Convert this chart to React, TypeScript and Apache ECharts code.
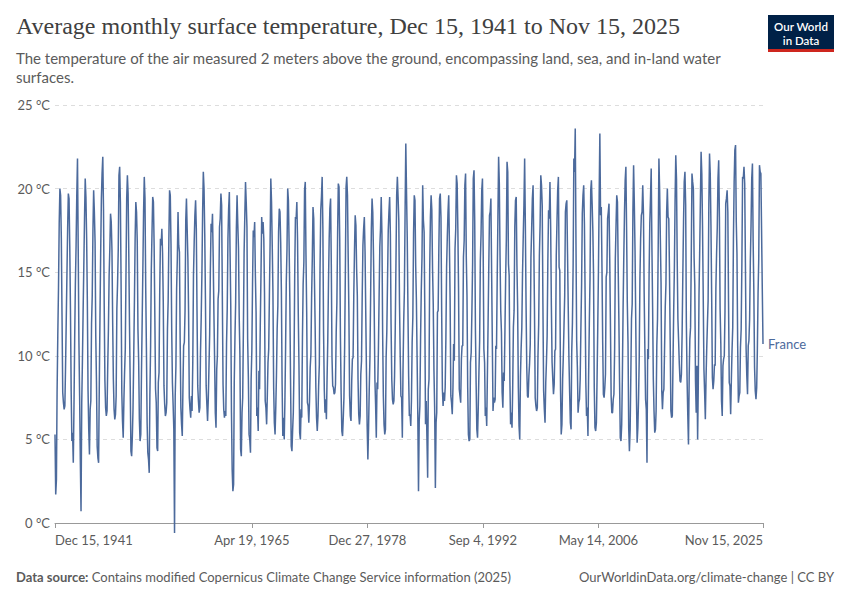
import React, { useEffect, useRef } from "react";
import * as echarts from "echarts";

const seriesName = "France";
const startYear = 1941;
const startMonthIndex = 11; // December 1941, first observation

// Monthly mean surface temperature, France (°C), Dec 1941 .. Nov 2025
const t1940s = [
  5.3,
  1.7, 2.6, 7.8, 11.2, 14.0, 17.9, 20.0, 19.6, 17.0, 12.4, 7.8, 7.2,
  6.8, 7.0, 9.2, 12.0, 14.8, 17.6, 19.7, 19.4, 16.6, 12.8, 7.9, 4.9,
  5.4, 3.6, 6.9, 11.0, 14.3, 16.6, 19.6, 21.8, 16.4, 10.9, 7.6, 3.8,
  0.7, 7.2, 9.6, 12.6, 15.3, 18.2, 20.6, 19.5, 17.0, 13.3, 7.9, 5.6,
  4.1, 6.8, 7.3, 11.9, 13.6, 17.5, 19.9, 18.6, 16.8, 11.2, 8.4, 4.6,
  3.9, 3.6, 8.0, 12.3, 16.1, 19.4, 20.9, 21.9, 18.8, 13.1, 8.5, 6.9,
  6.4, 6.7, 9.3, 11.6, 14.8, 16.4, 18.5, 18.0, 16.3, 12.1, 8.6, 6.8,
  6.2, 6.5, 7.6, 12.8, 14.3, 16.4, 20.8, 21.3, 19.2, 14.3, 7.8, 6.1,
];
const t1950s = [
  5.1, 7.4, 9.0, 10.4, 14.9, 19.4, 20.8, 19.7, 15.9, 11.8, 8.2, 4.3,
  4.0, 5.2, 6.8, 9.9, 13.2, 17.0, 19.2, 18.6, 16.8, 11.6, 9.7, 6.2,
  4.9, 5.3, 8.9, 12.1, 15.2, 18.6, 20.7, 19.4, 14.1, 10.5, 6.0, 4.2,
  3.8, 3.0, 7.7, 10.6, 15.1, 17.4, 19.5, 19.2, 16.6, 12.4, 8.0, 7.2,
  4.5, 4.3, 8.4, 9.0, 13.8, 17.0, 16.6, 17.6, 16.1, 13.2, 8.2, 7.1,
  6.4, 6.6, 7.2, 11.6, 13.3, 17.0, 19.9, 19.6, 16.7, 11.6, 8.4, 7.1,
  5.6, -0.6, 7.6, 9.4, 14.0, 15.8, 18.6, 16.6, 16.2, 11.0, 6.9, 5.9,
  5.2, 8.3, 10.6, 10.8, 12.7, 18.1, 19.4, 17.6, 15.8, 12.6, 7.5, 6.8,
  6.3, 7.6, 6.7, 9.6, 14.8, 16.8, 18.4, 19.3, 17.6, 12.7, 8.2, 7.3,
  6.6, 6.9, 10.2, 12.3, 14.9, 18.6, 21.0, 20.0, 17.3, 13.4, 8.2, 7.1,
];
const t1960s = [
  6.1, 7.4, 9.3, 11.3, 15.1, 17.9, 17.4, 18.5, 15.8, 12.6, 9.8, 6.6,
  5.7, 9.2, 10.0, 13.4, 13.9, 17.7, 18.2, 19.7, 19.0, 13.6, 8.3, 6.8,
  6.3, 6.7, 6.4, 10.7, 12.8, 17.0, 18.8, 19.8, 16.2, 13.0, 6.6, 3.2,
  1.9, 2.3, 8.4, 11.1, 13.2, 17.6, 19.6, 17.9, 16.4, 12.4, 10.1, 4.4,
  4.0, 6.6, 7.5, 11.7, 16.2, 18.4, 20.4, 19.2, 17.7, 11.0, 8.7, 5.3,
  5.0, 4.2, 8.6, 10.3, 14.3, 17.5, 17.1, 18.0, 14.8, 12.6, 6.4, 6.9,
  5.5, 9.1, 8.0, 11.8, 14.8, 18.3, 17.3, 18.0, 17.0, 13.8, 7.3, 6.9,
  5.9, 7.7, 9.6, 10.4, 13.6, 16.8, 20.6, 19.2, 16.6, 13.8, 8.1, 6.0,
  5.3, 6.9, 8.8, 11.6, 13.0, 17.4, 18.8, 18.6, 16.8, 13.8, 8.3, 5.2,
  6.3, 5.0, 7.2, 10.5, 14.4, 16.4, 20.0, 19.3, 16.6, 13.4, 8.6, 4.6,
];
const t1970s = [
  4.3, 5.6, 6.6, 9.4, 14.9, 18.3, 18.2, 19.2, 16.9, 12.6, 9.4, 5.4,
  5.0, 6.8, 6.3, 11.1, 14.3, 15.6, 19.9, 20.4, 16.0, 12.6, 7.2, 7.0,
  6.0, 7.3, 9.3, 10.1, 13.5, 15.9, 18.9, 18.2, 14.6, 11.8, 8.1, 6.3,
  5.5, 6.4, 8.2, 9.5, 15.2, 18.7, 19.5, 20.7, 17.6, 11.4, 8.0, 6.6,
  7.4, 6.2, 8.6, 10.9, 14.3, 17.0, 18.8, 19.4, 15.4, 9.9, 8.2, 8.1,
  7.7, 7.8, 8.3, 11.4, 13.2, 17.3, 20.3, 20.1, 16.9, 11.1, 7.7, 5.5,
  5.2, 6.3, 7.5, 10.6, 15.0, 20.1, 20.7, 19.6, 15.9, 12.6, 7.6, 6.4,
  6.1, 8.5, 9.8, 9.9, 13.6, 16.3, 18.4, 17.8, 15.2, 13.6, 8.6, 6.5,
  5.9, 6.4, 8.9, 9.7, 13.6, 16.6, 17.6, 18.3, 16.2, 12.6, 9.0, 5.8,
  3.8, 5.7, 8.0, 9.9, 13.7, 17.6, 19.4, 18.6, 16.0, 13.0, 8.6, 7.1,
];
const t1980s = [
  5.1, 8.4, 8.0, 10.3, 13.5, 16.5, 17.6, 19.5, 17.3, 11.4, 7.6, 5.9,
  5.3, 5.6, 9.9, 11.5, 14.5, 17.5, 18.6, 19.5, 17.3, 11.9, 8.6, 7.4,
  7.1, 7.3, 8.8, 11.7, 15.6, 19.6, 20.7, 19.5, 18.1, 13.2, 10.0, 7.6,
  7.5, 5.1, 9.0, 12.0, 13.9, 18.7, 22.7, 19.8, 17.1, 12.9, 8.8, 6.4,
  6.5, 5.8, 7.3, 10.8, 12.3, 17.3, 19.6, 19.3, 15.4, 13.4, 9.9, 6.5,
  1.9, 6.1, 7.0, 11.1, 13.9, 15.9, 20.2, 18.1, 17.4, 12.6, 5.9, 7.3,
  5.1, 2.7, 8.0, 8.6, 15.2, 18.3, 19.6, 18.7, 15.2, 13.1, 9.1, 6.9,
  2.1, 6.0, 6.6, 12.6, 12.7, 16.4, 19.4, 19.7, 18.3, 12.6, 8.0, 7.0,
  7.8, 7.3, 8.1, 11.1, 15.3, 17.1, 18.6, 19.6, 16.6, 13.3, 7.6, 7.2,
  6.5, 8.1, 10.7, 9.7, 16.4, 17.6, 20.8, 20.3, 17.6, 13.9, 8.0, 7.6,
];
const t1990s = [
  7.2, 9.8, 10.6, 10.6, 15.9, 16.9, 20.2, 20.9, 15.9, 13.6, 8.1, 5.3,
  4.9, 5.0, 9.6, 10.2, 12.6, 15.5, 20.6, 21.1, 18.0, 11.6, 8.3, 5.6,
  5.1, 6.9, 9.0, 10.9, 15.7, 17.3, 19.9, 20.6, 16.3, 10.4, 9.6, 6.4,
  6.9, 5.8, 8.7, 11.9, 15.3, 18.4, 18.6, 19.4, 15.1, 10.9, 6.7, 7.5,
  7.2, 7.4, 10.6, 10.4, 14.6, 18.3, 21.9, 20.3, 15.9, 12.7, 11.4, 7.8,
  6.9, 9.0, 8.5, 11.5, 14.6, 17.0, 21.6, 21.0, 15.5, 14.8, 8.6, 5.9,
  6.6, 5.7, 8.0, 11.7, 12.7, 17.7, 19.3, 19.5, 15.4, 13.0, 8.1, 5.8,
  5.0, 8.8, 10.4, 11.7, 14.9, 17.1, 19.0, 21.8, 17.8, 13.1, 9.3, 7.6,
  7.5, 8.8, 9.5, 10.7, 15.9, 17.6, 19.4, 20.2, 16.6, 12.8, 7.5, 7.0,
  6.7, 6.9, 10.0, 11.9, 16.0, 17.8, 20.8, 20.2, 19.0, 13.1, 7.9, 6.8,
];
const t2000s = [
  6.0, 8.4, 9.6, 11.2, 15.6, 18.7, 18.2, 20.4, 17.6, 13.0, 9.6, 8.6,
  7.7, 8.3, 10.3, 10.4, 16.0, 18.0, 19.9, 20.7, 15.3, 15.1, 8.0, 5.3,
  5.9, 8.6, 9.9, 11.8, 13.6, 18.6, 19.1, 19.3, 16.1, 12.9, 9.8, 7.8,
  6.0, 5.6, 10.2, 12.0, 15.4, 21.8, 21.0, 23.6, 16.8, 10.9, 9.3, 6.6,
  7.2, 7.4, 8.6, 11.6, 14.2, 18.5, 19.6, 20.2, 17.9, 13.5, 8.4, 6.4,
  6.9, 5.2, 8.8, 11.9, 14.6, 19.9, 20.5, 19.1, 17.5, 14.8, 8.1, 5.7,
  5.5, 6.0, 8.5, 11.7, 15.1, 19.5, 23.3, 18.4, 18.9, 15.3, 10.8, 7.7,
  7.5, 8.1, 8.9, 14.7, 15.0, 18.2, 18.6, 19.1, 15.9, 12.1, 7.6, 6.6,
  6.6, 7.4, 7.7, 10.4, 15.8, 17.8, 19.6, 19.2, 15.3, 12.2, 8.4, 5.1,
  4.9, 5.9, 8.7, 12.7, 15.8, 18.5, 20.5, 21.3, 17.5, 13.2, 10.8, 5.7,
];
const t2010s = [
  4.3, 5.6, 8.6, 12.2, 13.1, 18.6, 21.4, 19.1, 16.3, 12.2, 7.6, 4.8,
  5.7, 7.5, 9.8, 14.6, 17.0, 18.4, 18.6, 20.2, 18.5, 13.8, 10.4, 7.4,
  6.8, 3.6, 10.4, 9.8, 14.8, 17.9, 19.4, 21.2, 16.5, 12.9, 8.6, 6.7,
  5.4, 5.6, 6.7, 10.6, 12.2, 16.6, 21.8, 19.9, 17.0, 14.4, 7.9, 6.8,
  7.8, 8.0, 10.3, 12.9, 14.3, 18.6, 20.0, 18.3, 18.2, 15.1, 10.9, 6.7,
  6.3, 6.4, 9.4, 12.6, 15.2, 19.3, 22.0, 20.6, 15.7, 12.2, 10.9, 9.5,
  8.5, 8.4, 8.9, 11.4, 14.8, 18.0, 20.4, 21.0, 19.0, 12.0, 8.6, 6.5,
  4.7, 8.8, 11.0, 11.7, 15.8, 20.9, 20.4, 20.0, 15.9, 14.2, 8.5, 6.6,
  9.4, 5.0, 8.2, 13.6, 16.2, 19.3, 22.2, 20.9, 17.7, 13.6, 9.2, 7.8,
  6.2, 8.7, 10.4, 11.9, 13.3, 19.0, 22.1, 20.9, 17.8, 13.7, 8.7, 8.0,
];
const t2020s = [
  8.5, 9.5, 9.4, 14.0, 16.1, 17.7, 20.6, 21.7, 18.3, 12.8, 10.7, 7.3,
  6.4, 9.4, 9.8, 10.0, 12.7, 19.1, 19.4, 19.9, 18.6, 13.2, 8.4, 8.2,
  6.5, 8.6, 10.3, 11.7, 17.0, 20.4, 22.3, 22.6, 18.0, 16.1, 10.6, 7.2,
  7.6, 7.8, 10.5, 11.6, 15.4, 20.7, 20.6, 21.3, 20.3, 15.6, 10.4, 8.8,
  7.7, 10.6, 10.9, 12.2, 15.6, 17.8, 20.6, 21.5, 16.8, 13.8, 9.3, 7.9,
  7.4, 8.1, 10.3, 13.7, 15.8, 21.4, 21.0, 20.9, 17.4, 14.0, 10.7,
];

// x-axis tick dates [year, monthIndex, day]
const xTickDates: [number, number, number][] = [
  [1941, 11, 15],
  [1965, 3, 19],
  [1978, 11, 27],
  [1992, 8, 4],
  [2006, 4, 14],
  [2025, 10, 15],
];
const yTickValues = [0, 5, 10, 15, 20, 25];

const titleText = "Average monthly surface temperature, Dec 15, 1941 to Nov 15, 2025";
const subtitleText =
  "The temperature of the air measured 2 meters above the ground, encompassing land, sea, and in-land water\nsurfaces.";
const sourceText = "Contains modified Copernicus Climate Change Service information (2025)";
const licenseText = "OurWorldinData.org/climate-change | CC BY";
const logoLines = ["Our World", "in Data"];

const MONTHS = ["Jan", "Feb", "Mar", "Apr", "May", "Jun", "Jul", "Aug", "Sep", "Oct", "Nov", "Dec"];

const fmtDate = (v: number) => {
  const d = new Date(v);
  return `${MONTHS[d.getUTCMonth()]} ${d.getUTCDate()}, ${d.getUTCFullYear()}`;
};

export default function App() {
  const ref = useRef<HTMLDivElement>(null);

  useEffect(() => {
    if (!ref.current) return;
    const chart = echarts.init(ref.current, null, { renderer: "svg" });
    const values = [
      ...t1940s, ...t1950s, ...t1960s, ...t1970s, ...t1980s,
      ...t1990s, ...t2000s, ...t2010s, ...t2020s,
    ];
    const data = values.map((v, i) => [Date.UTC(startYear, startMonthIndex + i, 15), v]);
    const tickTs = xTickDates.map(([y, m, d]) => Date.UTC(y, m, d));
    const font = "Lato, 'Noto Sans', sans-serif";
    const lineColor = "#4c6a9c";

    chart.setOption({
      animation: false,
      backgroundColor: "#ffffff",
      textStyle: { fontFamily: font },
      grid: {
        left: 55,
        right: 87,
        top: 105,
        bottom: 77,
        containLabel: false,
        outerBoundsMode: "none",
      },
      xAxis: {
        type: "value",
        min: tickTs[0],
        max: tickTs[tickTs.length - 1],
        splitLine: { show: false },
        axisLine: { show: true, lineStyle: { color: "#999999", width: 1 } },
        axisTick: {
          show: true,
          customValues: tickTs,
          length: 5,
          lineStyle: { color: "#999999" },
        },
        axisLabel: {
          customValues: tickTs,
          formatter: (v: number) => fmtDate(v),
          color: "#5b5b5b",
          fontSize: 13,
          fontFamily: font,
          margin: 10,
          showMinLabel: true,
          showMaxLabel: true,
          alignMinLabel: "left",
          alignMaxLabel: "right",
        },
      },
      yAxis: {
        type: "value",
        min: yTickValues[0],
        max: yTickValues[yTickValues.length - 1],
        interval: 5,
        axisLine: { show: false },
        axisTick: { show: false },
        splitLine: { show: true, lineStyle: { color: "#dddddd", type: [4, 4], width: 1 } },
        axisLabel: {
          formatter: (v: number) => `${v} °C`,
          color: "#5b5b5b",
          fontSize: 13,
          fontFamily: font,
          margin: 5,
        },
      },
      series: [
        {
          name: seriesName,
          type: "line",
          data,
          showSymbol: false,
          clip: false,
          lineStyle: { color: lineColor, width: 1.5 },
          itemStyle: { color: lineColor },
          endLabel: {
            show: true,
            formatter: seriesName,
            color: lineColor,
            fontSize: 13,
            fontFamily: font,
            distance: 5,
          },
        },
      ],
      graphic: [
        {
          type: "text",
          left: 16,
          top: 14,
          style: {
            text: titleText,
            fontFamily: "'Liberation Serif', 'DejaVu Serif', serif",
            fontSize: 24,
            fill: "#404040",
          },
        },
        {
          type: "text",
          left: 16,
          top: 48,
          style: {
            text: subtitleText,
            fontFamily: font,
            fontSize: 15,
            lineHeight: 19,
            fill: "#5b5b5b",
          },
        },
        {
          type: "rect",
          shape: { x: 768, y: 15, width: 66, height: 37 },
          style: { fill: "#002147" },
        },
        {
          type: "rect",
          shape: { x: 768, y: 49, width: 66, height: 3 },
          style: { fill: "#ce261e" },
        },
        {
          type: "text",
          x: 801,
          y: 26.5,
          style: {
            text: logoLines[0],
            fontFamily: font,
            fontSize: 11.5,
            fontWeight: 600,
            fill: "#ffffff",
            align: "center",
            verticalAlign: "middle",
          },
        },
        {
          type: "text",
          x: 801,
          y: 40.5,
          style: {
            text: logoLines[1],
            fontFamily: font,
            fontSize: 11.5,
            fontWeight: 600,
            fill: "#ffffff",
            align: "center",
            verticalAlign: "middle",
          },
        },
        {
          type: "text",
          left: 16,
          top: 570,
          style: {
            text: `{b|Data source:} ${sourceText}`,
            fontFamily: font,
            fontSize: 13,
            fill: "#5b5b5b",
            rich: { b: { fontWeight: "bold", fontFamily: font, fontSize: 13, fill: "#5b5b5b" } },
          },
        },
        {
          type: "text",
          right: 16,
          top: 570,
          style: {
            text: licenseText,
            fontFamily: font,
            fontSize: 13,
            fill: "#5b5b5b",
          },
        },
      ],
    });

    return () => chart.dispose();
  }, []);

  return (
    <div
      ref={ref}
      style={{ position: "fixed", left: 0, top: 0, width: 850, height: 600, background: "#fff" }}
    />
  );
}
